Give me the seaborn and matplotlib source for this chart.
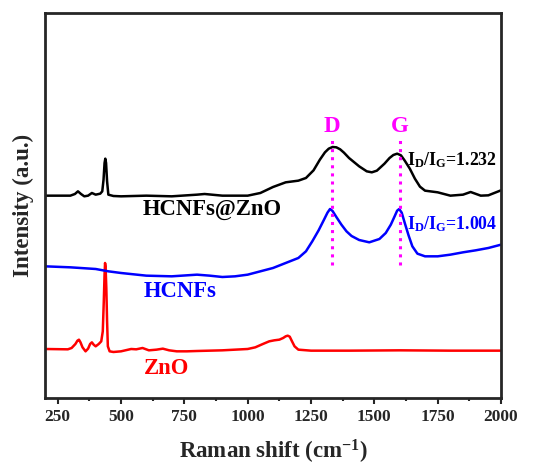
import numpy as np
import pandas as pd
import seaborn as sns
import matplotlib.pyplot as plt

# Raman spectra (intensity in arbitrary units, stacked offsets)
zno_x = [200, 290, 305, 320, 328, 334, 340, 348, 360, 370, 378, 385, 392, 400, 412,
         422, 428, 432, 435, 437, 439, 442, 445, 448, 455, 470, 500, 540, 560, 585,
         610, 640, 665, 690, 720, 760, 800, 900, 1000, 1030, 1060, 1085, 1105, 1125,
         1140, 1150, 1158, 1166, 1175, 1185, 1200, 1250, 1400, 1600, 1800, 2000]
zno_y = [147, 146, 150, 162, 172, 175, 167, 152, 140, 148, 162, 167, 160, 155, 162,
         170, 200, 290, 370, 405, 395, 330, 230, 155, 140, 138, 140, 147, 146, 150,
         143, 145, 148, 143, 140, 140, 141, 143, 147, 152, 162, 170, 173, 175,
         180, 185, 187, 184, 170, 155, 145, 142, 142, 143, 142, 142]

hcnf_x = [200, 300, 400, 450, 500, 600, 700, 800, 850, 900, 950, 1000, 1050, 1100,
          1150, 1200, 1230, 1255, 1280, 1300, 1315, 1325, 1335, 1350, 1370, 1390,
          1410, 1440, 1480, 1520, 1545, 1565, 1580, 1590, 1598, 1608, 1620, 1635,
          1650, 1670, 1700, 1750, 1800, 1850, 1900, 1950, 2000]
hcnf_y = [395, 392, 387, 380, 375, 367, 365, 370, 367, 363, 365, 370, 380, 390,
          405, 420, 440, 470, 503, 533, 556, 567, 561, 543, 520, 500,
          486, 474, 467, 477, 495, 520, 545, 562, 567, 556, 525, 488,
          455, 433, 425, 425, 430, 437, 443, 450, 460]

comp_x = [200, 300, 318, 330, 342, 355, 370, 385, 400, 418, 426, 431, 435, 438, 441,
          445, 450, 470, 500, 600, 700, 800, 830, 900, 1000, 1050, 1100, 1150, 1200,
          1230, 1260, 1285, 1305, 1320, 1335, 1350, 1365, 1380, 1400, 1440, 1470,
          1490, 1510, 1540, 1560, 1575, 1590, 1605, 1620, 1640, 1660, 1680, 1700,
          1750, 1800, 1850, 1880, 1920, 1950, 2000]
comp_y = [607, 607, 612, 620, 612, 605, 607, 615, 610, 613, 620, 655, 705, 718, 705,
          650, 610, 606, 605, 607, 605, 610, 612, 607, 607, 615, 633, 647, 652,
          660, 683, 715, 737, 748, 753, 752, 746, 736, 720, 695, 680,
          677, 682, 703, 720, 729, 733, 728, 712, 688, 658, 634, 622,
          617, 607, 610, 618, 607, 608, 623]

series = [("ZnO", zno_x, zno_y, "#ff0000"),
          ("HCNFs", hcnf_x, hcnf_y, "#0000ff"),
          ("HCNFs@ZnO", comp_x, comp_y, "#000000")]

d_band = 1333
g_band = 1600

sns.set_style("ticks")
plt.rcParams["font.family"] = ["Liberation Serif", "DejaVu Serif"]
plt.rcParams["font.weight"] = "bold"
plt.rcParams["mathtext.fontset"] = "custom"
plt.rcParams["mathtext.rm"] = "Liberation Serif:bold"
plt.rcParams["mathtext.bf"] = "Liberation Serif:bold"
plt.rcParams["mathtext.it"] = "Liberation Serif:bold"
plt.rcParams["mathtext.default"] = "bf"

fig = plt.figure(figsize=(5.49, 4.69), dpi=100)
ax = fig.add_axes([0.082, 0.1514, 0.8306, 0.8209])

for name, xs, ys, col in series:
    df = pd.DataFrame({"shift": xs, "intensity": ys})
    sns.lineplot(data=df, x="shift", y="intensity", color=col, linewidth=1.8, ax=ax)

# D and G band markers
for pos, lab in [(d_band, "D"), (g_band, "G")]:
    ax.plot([pos, pos], [400, 775], color="#ff00ff", linestyle=":", linewidth=2.2)
    ax.text(pos, 814, lab, color="#ff00ff", fontsize=16.5, fontweight="bold",
            ha="center", va="center")

ax.text(586, 565, "HCNFs@ZnO", color="black", fontsize=16.3, fontweight="bold", va="center")
ax.text(590, 319, "HCNFs", color="#0000ff", fontsize=16.3, fontweight="bold", va="center")
ax.text(590, 88, "ZnO", color="#ff0000", fontsize=16.3, fontweight="bold", va="center")
ax.text(1628, 713, r"$I_D/I_G$=1.232", color="black", fontsize=12.8, fontweight="bold", va="center")
ax.text(1628, 523, r"$I_D/I_G$=1.004", color="#0000ff", fontsize=12.8, fontweight="bold", va="center")

ax.set_xlim(200, 2000)
ax.set_ylim(0, 1155)
ax.set_xticks([250, 500, 750, 1000, 1250, 1500, 1750, 2000])
ax.set_xticks(np.arange(375, 2000, 250), minor=True)
ax.set_yticks([])
ax.tick_params(axis="x", direction="out", width=1.5, length=4, labelsize=12.5, pad=4)
ax.tick_params(axis="x", which="minor", direction="out", width=1.5, length=2.5)
for lbl in ax.get_xticklabels():
    lbl.set_fontweight("bold")
for sp in ax.spines.values():
    sp.set_visible(True)
    sp.set_linewidth(2)

ax.set_xlabel(r"Raman shift (cm$^{-1}$)", fontsize=16.5, fontweight="bold", labelpad=9)
ax.set_ylabel("Intensity (a.u.)", fontsize=16.5, fontweight="bold", labelpad=8)

fig.savefig("out.png", dpi=100)
